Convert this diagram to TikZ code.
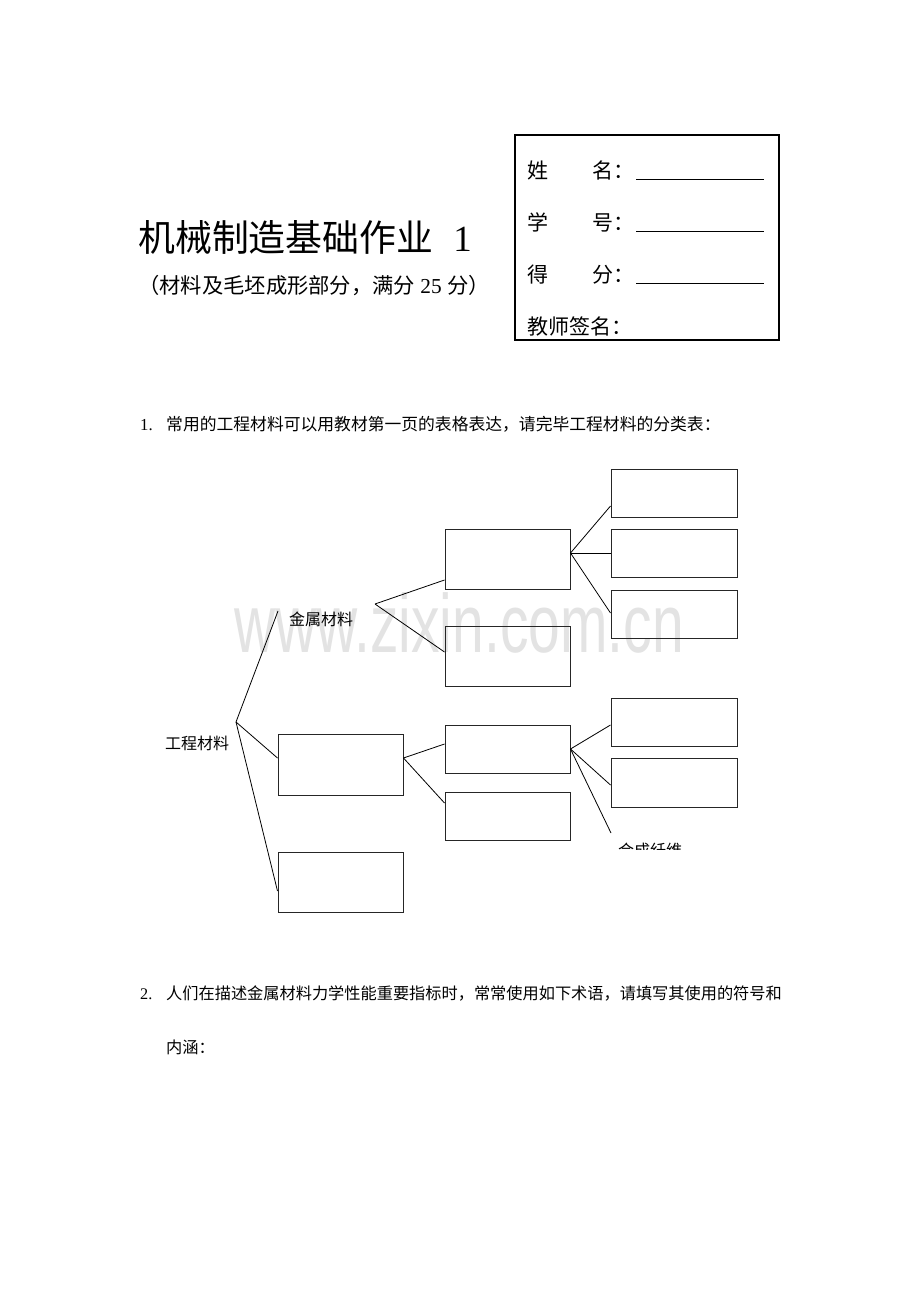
\documentclass[tikz,border=0pt]{standalone}
\usepackage{fontspec}
\setmainfont{Liberation Serif}
\newfontfamily\cjk{Noto Sans CJK SC}
\newfontfamily\wmfont{Liberation Sans}
\begin{document}
\begin{tikzpicture}[x=1pt,y=-1pt,
  box/.style={draw=black!85,line width=1pt,minimum width=125pt,minimum height=48pt,inner sep=0pt},
  link/.style={draw=black,line width=0.8pt},
  txt/.style={inner sep=0pt,anchor=base west},
  lbl/.style={txt,font=\cjk\fontsize{16}{18}\selectfont},
  row/.style={txt,font=\cjk\fontsize{21}{24}\selectfont},
  uline/.style={draw=black,line width=1pt}
  ]
\useasboundingbox[fill=white] (0,0) rectangle (920,1302);

% watermark
\node[inner sep=0pt,anchor=base,text=black!11,font=\wmfont\fontsize{57}{60}\selectfont] (wm) at (459,652) {\scalebox{1}[1.45]{www.zixin.com.cn}};

% title
\node[txt,font=\fontsize{36.9}{40}\selectfont] (title) at (138,251) {{\cjk 机械制造基础作业}\hspace{20pt}1};
\node[txt,font=\fontsize{21.3}{24}\selectfont] (subtitle) at (138,293) {{\cjk （材料及毛坯成形部分，满分} 25 {\cjk 分）}};

% info box
\node[draw=black,line width=1.4pt,minimum width=264pt,minimum height=205pt,inner sep=0pt] (info) at (647,237.5) {};
\node[row] (r1) at (527,178) {姓\hspace{2.1em}名：};
\node[row] (r2) at (527,230) {学\hspace{2.1em}号：};
\node[row] (r3) at (527,282) {得\hspace{2.1em}分：};
\node[row] (r4) at (527,334) {教师签名：};
\draw[uline] (636,179) -- (764,179);
\draw[uline] (636,231) -- (764,231);
\draw[uline] (636,283) -- (764,283);

% question 1
\node[txt,font=\fontsize{16.8}{18}\selectfont] (q1n) at (140,430) {1.};
\node[txt,font=\cjk\fontsize{16.8}{18}\selectfont] (q1) at (166,430) {常用的工程材料可以用教材第一页的表格表达，请完毕工程材料的分类表：};

% tree labels
\node[lbl] (gc) at (165,749) {工程材料};
\node[lbl] (js) at (289,625) {金属材料};
\begin{scope}
  \clip (600,830) rectangle (720,849);
  \node[lbl] (hc) at (618,856) {合成纤维};
\end{scope}

% boxes
\node[box,minimum height=60pt] (A1) at (507.5,559) {};
\node[box,minimum height=60pt] (A2) at (507.5,656) {};
\node[box,minimum width=126pt] (C1) at (674,493) {};
\node[box,minimum width=126pt] (C2) at (674,553) {};
\node[box,minimum width=126pt] (C3) at (674,614) {};
\node[box,minimum height=61pt] (B) at (340.5,764.5) {};
\node[box,minimum height=60pt] (D) at (340.5,882) {};
\node[box] (E1) at (507.5,749) {};
\node[box] (E2) at (507.5,816) {};
\node[box,minimum width=126pt] (F1) at (674,722) {};
\node[box,minimum width=126pt,minimum height=49pt] (F2) at (674,782.5) {};

% hub coordinates
\coordinate (root) at (236,722);
\coordinate (jstop) at (278,611);
\coordinate (jshub) at (375,604);
\coordinate (hcend) at (611,833);

% connectors
\draw[link] (root) -- (jstop);
\draw[link] (root) -- ([yshift=6.5pt]B.west);
\draw[link] (root) -- ([yshift=-9pt]D.west);
\draw[link] (jshub) -- ([yshift=-21pt]A1.west);
\draw[link] (jshub) -- ([yshift=4pt]A2.west);
\draw[link] ([yshift=6pt]A1.east) -- ([yshift=-13pt]C1.west);
\draw[link] ([yshift=6pt]A1.east) -- (C2.west);
\draw[link] ([yshift=6pt]A1.east) -- ([yshift=1pt]C3.west);
\draw[link] ([yshift=6.5pt]B.east) -- ([yshift=5pt]E1.west);
\draw[link] ([yshift=6.5pt]B.east) -- ([yshift=13pt]E2.west);
\draw[link] (E1.east) -- ([yshift=-3pt]F1.west);
\draw[link] (E1.east) -- ([yshift=-2.5pt]F2.west);
\draw[link] (E1.east) -- (hcend);

% question 2
\node[txt,font=\fontsize{16.2}{18}\selectfont] (q2n) at (140,999) {2.};
\node[txt,font=\cjk\fontsize{16.2}{18}\selectfont] (q2) at (166,999) {人们在描述金属材料力学性能重要指标时，常常使用如下术语，请填写其使用的符号和};
\node[txt,font=\cjk\fontsize{16.2}{18}\selectfont] (q2b) at (166,1053) {内涵：};
\end{tikzpicture}
\end{document}
